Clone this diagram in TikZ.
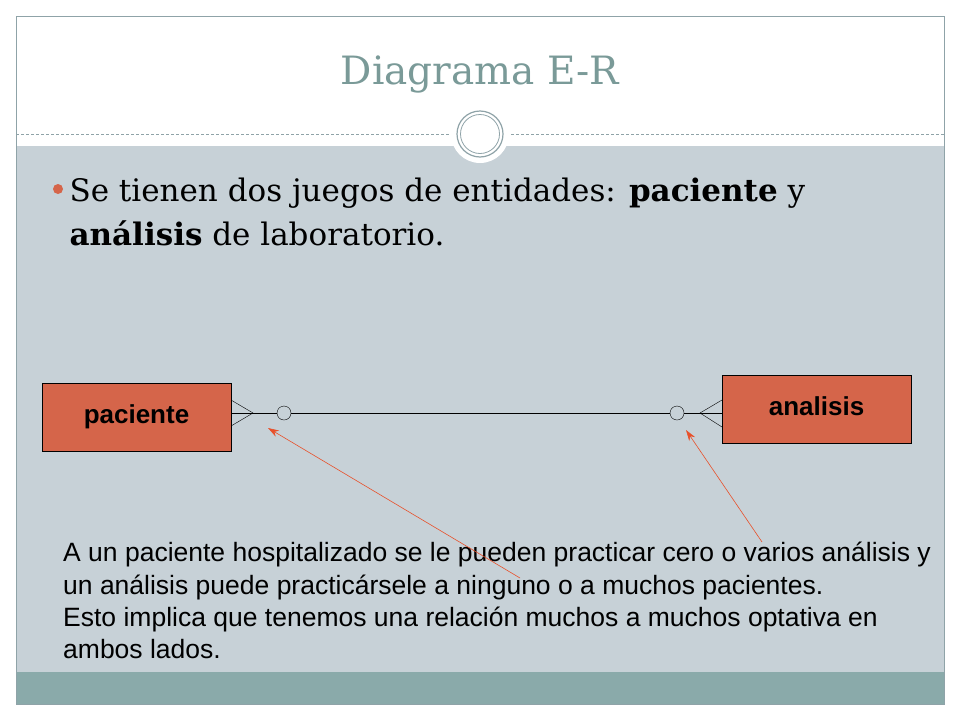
\documentclass[tikz,border=0pt]{standalone}
\usepackage{fontspec}
\setmainfont{DejaVu Serif}
\setsansfont{Liberation Sans}
\definecolor{body}{HTML}{C7D1D7}
\definecolor{strip}{HTML}{8AAAAA}
\definecolor{ttl}{HTML}{7A9A98}
\definecolor{ent}{HTML}{D5654A}
\definecolor{arr}{HTML}{E8502A}
\definecolor{frame}{HTML}{8FA3A8}
\usetikzlibrary{arrows.meta}
\tikzset{entity/.style={draw=black,fill=ent,minimum width=189pt,minimum height=68pt,font=\sffamily\bfseries\fontsize{26}{30}\selectfont},
pt/.style={draw=arr,semithick,-{Stealth[length=11pt,width=7pt]}}}
\begin{document}
\begin{tikzpicture}[x=1pt,y=-1pt]
\useasboundingbox (0,0) rectangle (960,720);
\fill[white] (0,0) rectangle (960,720);
\fill[body] (16,146) rectangle (944,672);
\fill[strip] (16,672) rectangle (944,704);
\draw[frame] (16,16) rectangle (944,704);
\draw[frame,densely dashed] (16,134) -- (944,134);
\fill[white] (480,134) circle (29);
\draw[frame,line width=1.2pt] (480,134) circle (23);
\draw[frame,line width=0.8pt] (480,134) circle (19.5);
\node[text=ttl,font=\fontsize{39}{44}\selectfont] (title) at (480,74) {Diagrama E-R};
\fill[ent] (58,189) circle (5);
\node[anchor=west,align=left,font=\fontsize{31}{44}\selectfont] (b) at (66,212) {Se tienen dos juegos de entidades: \textbf{paciente} y\\\textbf{análisis} de laboratorio.};
\node[entity] (pac) at (136.5,417) {paciente};
\node[entity] (ana) at (816.5,409) {\raisebox{6pt}{analisis}};
\coordinate (l) at (231,413); \coordinate (r) at (722,413);
\draw (l) -- (r);
\draw (231,400) -- (253,413) -- (231,426);
\draw (722,400) -- (700,413) -- (722,427);
\draw[fill=body] (284,413) circle (7);
\draw[fill=body] (677,413) circle (7);
\node[anchor=north west,align=left,inner sep=0pt,font=\sffamily\fontsize{26.5}{32.3}\selectfont] (txt) at (63,542) {A un paciente hospitalizado se le pueden practicar cero o varios análisis y\\un análisis puede practicársele a ninguno o a muchos pacientes.\\Esto implica que tenemos una relación muchos a muchos optativa en\\ambos lados.};
\coordinate (a1) at (520,578); \coordinate (t1) at (268,428);
\coordinate (a2) at (762,542); \coordinate (t2) at (686,430);
\draw[pt] (a1) -- (t1);
\draw[pt] (a2) -- (t2);
\end{tikzpicture}
\end{document}
